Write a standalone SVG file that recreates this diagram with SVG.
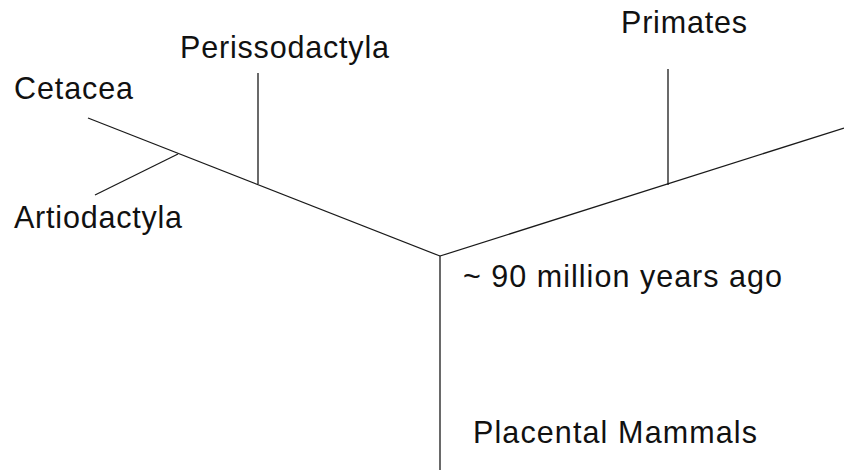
<svg xmlns="http://www.w3.org/2000/svg" width="844" height="470" viewBox="0 0 844 470">
<style>
.lbl{font-family:"Liberation Sans",Arial,sans-serif;font-size:30.5px;fill:#111}
.edge{stroke:#1a1a1a;stroke-width:1.3;fill:none;stroke-linecap:butt}
</style>
<rect width="844" height="470" fill="#ffffff"/>
<g id="connectors">
<line class="edge" x1="88" y1="118" x2="440" y2="256"/>
<line class="edge" x1="95" y1="195" x2="178" y2="154"/>
<line class="edge" x1="258" y1="73" x2="258" y2="184"/>
<line class="edge" x1="440" y1="256" x2="844" y2="128"/>
<line class="edge" x1="668" y1="69" x2="668" y2="185"/>
<line class="edge" x1="440" y1="256" x2="440" y2="470"/>
</g>
<g id="cetacea"><text class="lbl" x="14" y="99" textLength="119" lengthAdjust="spacing">Cetacea</text></g>
<g id="artiodactyla"><text class="lbl" x="14" y="228" textLength="168" lengthAdjust="spacing">Artiodactyla</text></g>
<g id="perissodactyla"><text class="lbl" x="180" y="58" textLength="209" lengthAdjust="spacing">Perissodactyla</text></g>
<g id="primates"><text class="lbl" x="621" y="33" textLength="126" lengthAdjust="spacing">Primates</text></g>
<g id="divergence"><text class="lbl" x="463" y="287" textLength="319" lengthAdjust="spacing">~ 90 million years ago</text></g>
<g id="placental-mammals"><text class="lbl" x="473" y="443" textLength="284" lengthAdjust="spacing">Placental Mammals</text></g>
</svg>
